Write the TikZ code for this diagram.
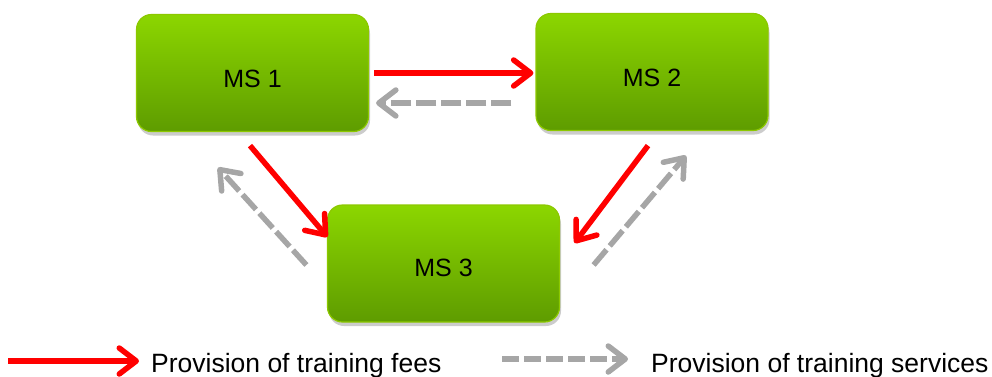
\documentclass[tikz,border=0pt]{standalone}
\usepackage{fontspec}
\setmainfont{Liberation Sans}
\usetikzlibrary{arrows.meta,shadows,calc}

\definecolor{boxtop}{HTML}{8CD600}
\definecolor{boxbot}{HTML}{5E9C00}
\definecolor{boxedge}{HTML}{8CC800}
\definecolor{feered}{HTML}{FF0000}
\definecolor{servgray}{HTML}{A6A6A6}

\tikzset{
  msbox/.style={
    rounded corners=15pt, minimum width=232pt, minimum height=117pt,
    top color=boxtop, bottom color=boxbot, draw=boxedge, line width=1.2pt,
    drop shadow={shadow xshift=1.5pt, shadow yshift=-4pt, opacity=0.2, fill=black},
    inner sep=0pt},
  boxlabel/.style={font=\fontsize{25}{29}\selectfont, text=black, inner sep=0pt},
  headtip/.style={-{Straight Barb[length=17pt,width=26pt,round]}},
  feearrow/.style={headtip, draw=feered, line width=5.5pt},
  servarrow/.style={headtip, draw=servgray, line width=5.5pt, dash pattern=on 20pt off 5pt},
  legendtext/.style={anchor=base west, inner sep=0pt, font=\fontsize{26.5}{30}\selectfont, text=black}
}

\begin{document}
\begin{tikzpicture}[x=1pt, y=-1pt]
  \useasboundingbox (0,0) rectangle (992,376);

  % member states
  \node[msbox] (ms1) at (252.5,73) {};
  \node[msbox] (ms2) at (652,72) {};
  \node[msbox] (ms3) at (443.5,263.5) {};
  \node[boxlabel] (l1) at ($(ms1.center)+(0,6)$) {MS 1};
  \node[boxlabel] (l2) at ($(ms2.center)+(0,6)$) {MS 2};
  \node[boxlabel] (l3) at ($(ms3.center)+(0,4.5)$) {MS 3};

  % training fees (solid red)
  \draw[feearrow] ($(ms1.east)+(5,0)$) -- ($(ms2.west)+(-2,1)$);
  \draw[feearrow] ($(ms1.south)+(-2.5,13.5)$) -- ($(ms3.west)+(0.5,-26.5)$);
  \draw[feearrow] ($(ms2.south)+(-4,14.5)$) -- ($(ms3.east)+(14.5,-20.5)$);

  % training services (dashed grey)
  \draw[servarrow] ($(ms2.west)+(-24,31)$) -- ($(ms1.east)+(7,30)$);
  \draw[servarrow] ($(ms3.west)+(-20.5,1.5)$) -- ($(ms1.south)+(-34.5,35.5)$);
  \draw[servarrow] ($(ms3.east)+(33.5,1.5)$) -- ($(ms2.south)+(34,24.5)$);

  % legend
  \coordinate (fs) at (8,361);
  \node[legendtext] (fees) at (151,372) {Provision of training fees};
  \draw[feearrow] (fs) -- ($(fees.base west)+(-12,-11)$);
  \coordinate (ss) at (502,359);
  \node[legendtext] (serv) at (651,372) {Provision of training services};
  \draw[servarrow, dash pattern=on 17pt off 5pt] (ss) -- ($(serv.base west)+(-23,-13)$);
\end{tikzpicture}
\end{document}
